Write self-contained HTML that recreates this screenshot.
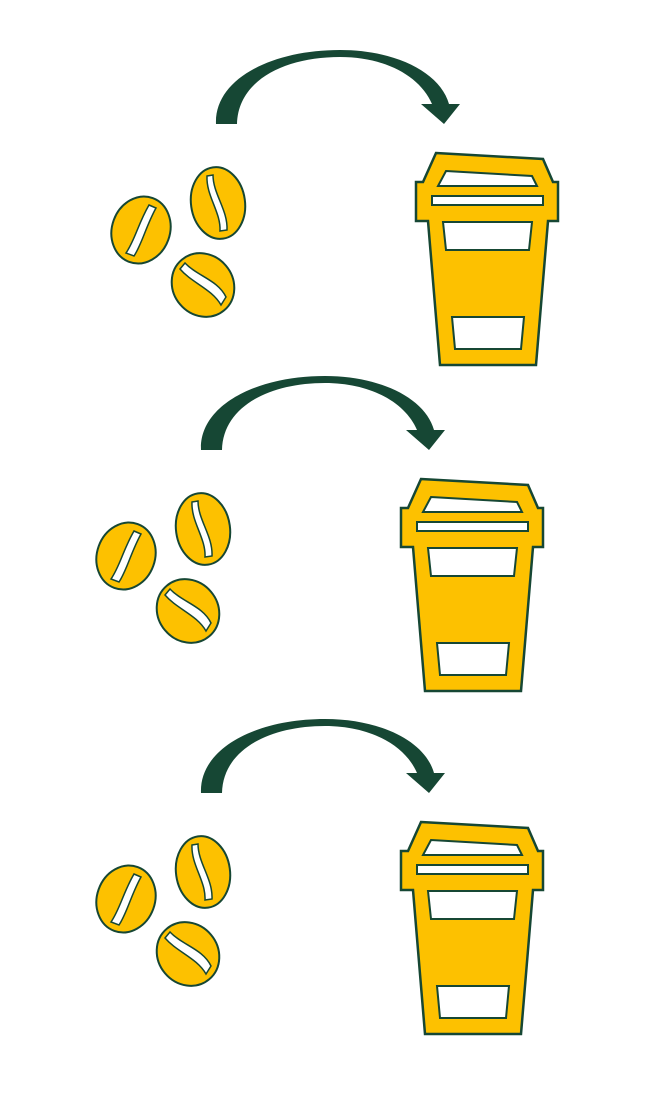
<!DOCTYPE html>
<html><head><style>html,body{margin:0;padding:0;background:#fff;width:646px;height:1102px;overflow:hidden}</style></head>
<body>
<svg width="646" height="1102" viewBox="0 0 646 1102">
<defs>
<g id="unit">
  <g>
    <path d="M216,124 C214,80 270,50 340,50 C395,50 440,72 449,104 L460,104 L444,124 L421,104 L432,104 C420,76 385,57 340,57 C285,57 238,80 237,124 Z" fill="#164734"/>
  </g>
  <g stroke="#164734" stroke-width="2">
    <ellipse cx="141" cy="230" rx="29" ry="34" transform="rotate(20 141 230)" fill="#fdc100"/>
    <path d="M149,205 L156,208 C146,226 142,244 134,256 L126,253 C135,240 138,224 149,205 Z" fill="#fff" stroke-width="1.5"/>
    <ellipse cx="218" cy="203" rx="27" ry="36" transform="rotate(-8 218 203)" fill="#fdc100"/>
    <path d="M207,176 L213,175 C213,194 228,210 227,230 L220,231 C221,212 206,196 207,176 Z" fill="#fff" stroke-width="1.5"/>
    <ellipse cx="203" cy="285" rx="30" ry="33" transform="rotate(-40 203 285)" fill="#fdc100"/>
    <path d="M180,269 L185,263 C197,276 218,280 226,297 L221,305 C212,289 192,283 180,269 Z" fill="#fff" stroke-width="1.5"/>
  </g>
  <g stroke="#164734" stroke-width="2.5">
    <path d="M436,153 L543,159 L553,182 L558,182 L558,221 L548,221 L536,365 L440,365 L428,221 L416,221 L416,182 L423,182 Z" fill="#fdc100"/>
    <path d="M446,171 L532,176 L537,186 L438,186 Z" fill="#fff" stroke-width="2"/>
    <rect x="432" y="196" width="111" height="9" fill="#fff" stroke-width="2"/>
    <path d="M443,222 L532,222 L529,250 L446,250 Z" fill="#fff" stroke-width="2"/>
    <path d="M452,317 L524,317 L521,349 L455,349 Z" fill="#fff" stroke-width="2"/>
  </g>
</g>
</defs>
<use href="#unit"/>
<use href="#unit" transform="translate(-15,326)"/>
<use href="#unit" transform="translate(-15,669)"/>
</svg>
</body></html>
